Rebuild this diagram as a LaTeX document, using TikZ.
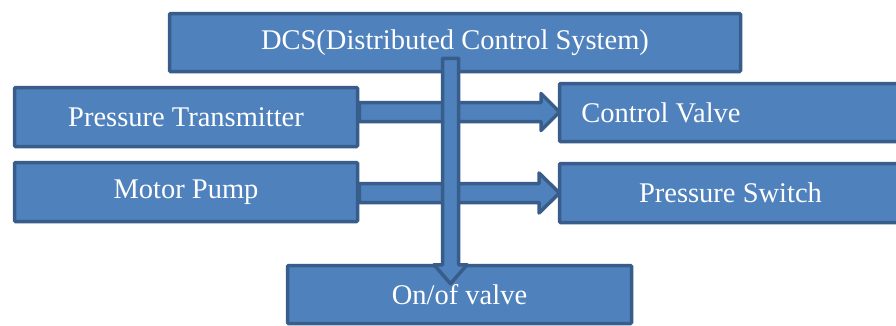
\documentclass[tikz,border=0pt]{standalone}
\usepackage{fontspec}
\setmainfont{Liberation Serif}
\usetikzlibrary{calc}
\definecolor{boxfill}{HTML}{4F81BD}
\definecolor{boxline}{HTML}{385D8A}
\tikzset{
  box/.style={draw=boxline, fill=boxfill, line width=3.5pt, rounded corners=1pt,
    text=white, inner sep=0pt, font=\fontsize{28.5}{34}\selectfont},
  blockarrow/.style={draw=boxline, fill=boxfill, line width=3.5pt, line join=round},
}
\begin{document}
\begin{tikzpicture}[x=1pt, y=1pt]
  \clip (0,0) rectangle (896,325);
  \fill[white] (0,0) rectangle (896,325);

  % source boxes on the left
  \node[box, minimum width=343pt, minimum height=59pt] (pt) at (186,208) {Pressure Transmitter};
  \node[box, minimum width=343pt, minimum height=59pt] (mp) at (186,133) {Motor Pump};

  % horizontal block arrows
  \draw[blockarrow] let \p1=(pt.east), \p2=(558pt,213pt) in
    (\x1,222.5pt) -- (541pt,222.5pt) -- (541pt,231.5pt) -- (\x2+1.5pt,213pt)
    -- (541pt,194.5pt) -- (541pt,203.5pt) -- (\x1,203.5pt) -- cycle;
  \draw[blockarrow] let \p1=(mp.east), \p2=(558pt,132pt) in
    (\x1,141.5pt) -- (539pt,141.5pt) -- (539pt,152pt) -- (\x2+1.5pt,132pt)
    -- (539pt,112pt) -- (539pt,122.5pt) -- (\x1,122.5pt) -- cycle;

  % target boxes on the right
  \node[box, minimum width=342pt, minimum height=58pt] (cv) at (730.5,212.5) {};
  \node[text=white, font=\fontsize{28.5}{34}\selectfont, anchor=west, inner sep=0pt]
    (cvtext) at ([xshift=23.5pt]cv.west) {Control Valve};
  \node[box, minimum width=342pt, minimum height=59pt] (ps) at (730.5,132) {Pressure Switch};

  \node[box, minimum width=571pt, minimum height=58pt] (dcs) at (455,282.5) {DCS(Distributed Control System)};
  \node[box, minimum width=344pt, minimum height=58pt] (onof) at (459.5,30.5) {On/of valve};

  % vertical block arrow from the DCS down to the on/off valve
  \draw[blockarrow] let \p1=(dcs.south), \p2=(onof.north) in
    (442.5pt,\y1+15pt) -- (442.5pt,\y2-1pt) -- (434pt,\y2-1pt)
    -- (450.5pt,\y2-20pt) -- (467pt,\y2-1pt) -- (458.5pt,\y2-1pt)
    -- (458.5pt,\y1+15pt) -- cycle;
\end{tikzpicture}
\end{document}
